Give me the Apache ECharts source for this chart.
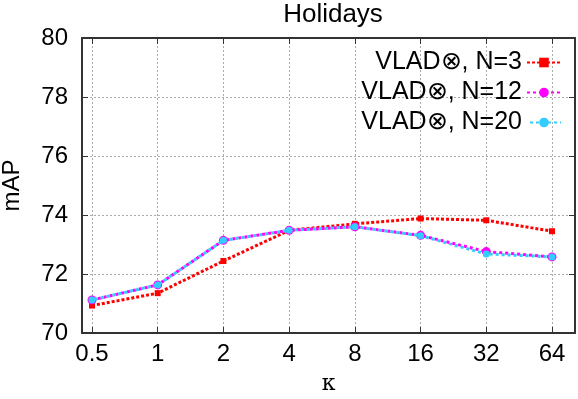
<!DOCTYPE html>
<html>
<head>
<meta charset="utf-8">
<script src="https://cdn.jsdelivr.net/npm/echarts@6/dist/echarts.min.js"></script>
<style>
  html, body { margin: 0; padding: 0; background: #fff; }
  #chart { width: 578px; height: 399px; }
</style>
</head>
<body>
<div id="chart"></div>
<script>
// kappa values along the x axis (plotted on a log2 scale)
var kappas = [0.5, 1, 2, 4, 8, 16, 32, 64];
var map_N3 = [70.93, 71.35, 72.44, 73.48, 73.70, 73.88, 73.82, 73.45];
var map_N12 = [71.12, 71.63, 73.14, 73.48, 73.60, 73.31, 72.76, 72.58];
var map_N20 = [71.12, 71.63, 73.14, 73.48, 73.60, 73.30, 72.68, 72.58];

var NAME_N3 = 'VLAD\u2297, N=3';
var NAME_N12 = 'VLAD\u2297, N=12';
var NAME_N20 = 'VLAD\u2297, N=20';
var FONT = 'Liberation Sans';

var xPos = kappas.map(function (k) { return Math.log2(k); });

function pairs(vals) {
    return vals.map(function (v, i) { return [xPos[i], v]; });
}

var myChart = echarts.init(document.getElementById('chart'));

var gridLine = { show: true, lineStyle: { color: '#aaa', type: [2, 2], width: 1 } };
var frame = { show: true, onZero: false, lineStyle: { color: '#333', width: 2 } };

var option = {
    animation: false,
    title: {
        text: 'Holidays',
        left: 328,
        textAlign: 'center',
        top: -3,
        textStyle: { fontFamily: FONT, fontSize: 26, fontWeight: 'normal', color: '#000' }
    },
    legend: {
        orient: 'vertical',
        right: 11,
        top: 45,
        align: 'right',
        itemWidth: 34,
        itemHeight: 12,
        itemGap: 5,
        textStyle: { fontFamily: FONT, fontSize: 25, lineHeight: 24, color: '#000' },
        data: [NAME_N3, NAME_N12, NAME_N20]
    },
    grid: { left: 82, right: 3, top: 38, bottom: 66, outerBoundsMode: 'none', containLabel: false },
    xAxis: [
        {
            type: 'value',
            min: -1.152,
            max: 6.35,
            name: '\u03ba',
            nameLocation: 'middle',
            nameGap: 40,
            nameTextStyle: { fontFamily: 'DejaVu Serif', fontSize: 22, color: '#000' },
            axisLine: frame,
            axisTick: { show: true, inside: true, length: 6, customValues: xPos, lineStyle: { color: '#333' } },
            axisLabel: {
                customValues: xPos,
                margin: 9,
                fontFamily: FONT, fontSize: 24, color: '#000',
                formatter: function (v) { return String(Math.pow(2, Math.round(v * 10) / 10)); }
            },
            splitLine: gridLine
        },
        {
            type: 'value',
            position: 'top',
            min: -1.152,
            max: 6.35,
            axisLine: frame,
            axisTick: { show: true, inside: true, length: 6, customValues: xPos, lineStyle: { color: '#333' } },
            axisLabel: { show: false, customValues: xPos },
            splitLine: { show: false }
        }
    ],
    yAxis: [
        {
            type: 'value',
            min: 70,
            max: 80,
            interval: 2,
            name: 'mAP',
            nameLocation: 'middle',
            nameGap: 58,
            nameTextStyle: { fontFamily: FONT, fontSize: 24, color: '#000' },
            axisLine: frame,
            axisTick: { show: true, inside: true, length: 6, lineStyle: { color: '#333' } },
            axisLabel: { margin: 14, fontFamily: FONT, fontSize: 24, color: '#000' },
            splitLine: gridLine
        },
        {
            type: 'value',
            position: 'right',
            min: 70,
            max: 80,
            interval: 2,
            axisLine: frame,
            axisTick: { show: true, inside: true, length: 6, lineStyle: { color: '#333' } },
            axisLabel: { show: false },
            splitLine: { show: false }
        }
    ],
    series: [
        {
            name: NAME_N3,
            type: 'line',
            data: pairs(map_N3),
            symbol: 'rect',
            symbolSize: 6,
            color: '#ff0000',
            lineStyle: { color: '#ff0000', width: 3, type: [3, 2] },
            itemStyle: { color: '#ff0000' },
            z: 3
        },
        {
            name: NAME_N12,
            type: 'line',
            data: pairs(map_N12),
            symbol: 'circle',
            symbolSize: 9,
            color: '#ff00ff',
            lineStyle: { color: '#ff00ff', width: 3, type: [3, 3], dashOffset: 0 },
            itemStyle: { color: '#ff00ff' },
            z: 4
        },
        {
            name: NAME_N20,
            type: 'line',
            data: pairs(map_N20),
            symbol: 'circle',
            symbolSize: 7,
            color: '#00ffff',
            lineStyle: { color: '#33ccff', width: 3, type: [3, 3], dashOffset: 3 },
            itemStyle: { color: '#33ccff' },
            z: 5
        }
    ]
};
myChart.setOption(option);
</script>
</body>
</html>
